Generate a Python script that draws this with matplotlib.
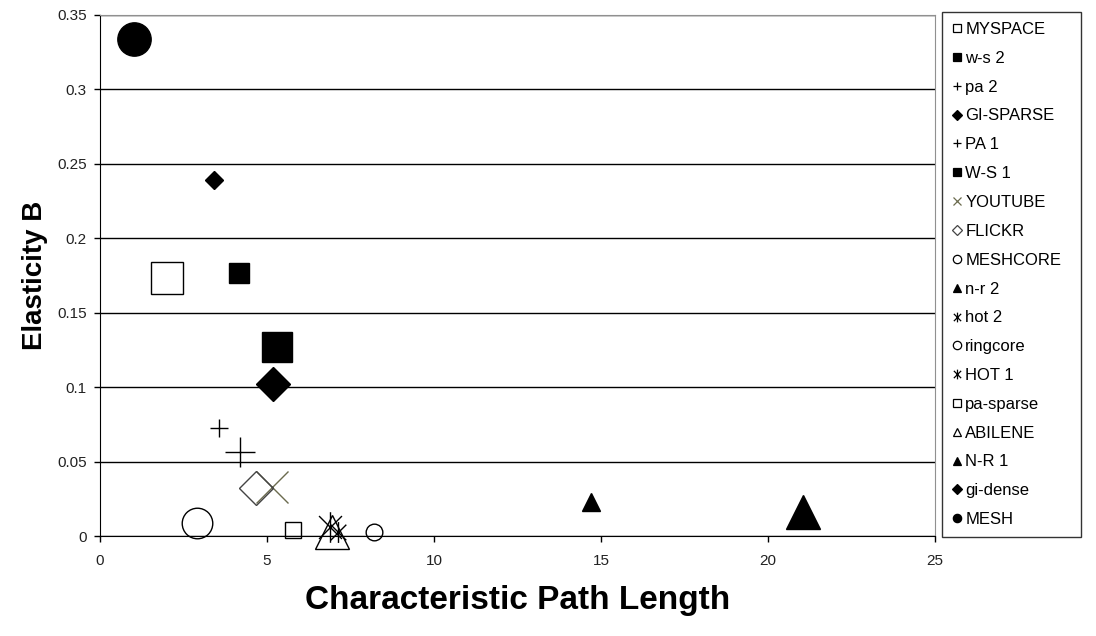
import matplotlib
matplotlib.use('Agg')
import matplotlib.pyplot as plt
from matplotlib.path import Path
from matplotlib.lines import Line2D

# datos (una serie por red)
series = ['MYSPACE', 'w-s 2', 'pa 2', 'GI-SPARSE', 'PA 1', 'W-S 1', 'YOUTUBE', 'FLICKR',
          'MESHCORE', 'n-r 2', 'hot 2', 'ringcore', 'HOT 1', 'pa-sparse', 'ABILENE',
          'N-R 1', 'gi-dense', 'MESH']
path_length = [2.0, 4.16, 3.56, 5.18, 4.19, 5.3, 5.15, 4.67,
               2.9, 14.7, 7.13, 8.2, 6.89, 5.78, 6.95,
               21.04, 3.41, 1.02]
elasticity = [0.173, 0.177, 0.0726, 0.102, 0.0564, 0.127, 0.033, 0.032,
              0.0087, 0.023, 0.003, 0.003, 0.006, 0.004, 0.003,
              0.016, 0.239, 0.334]

x_ticks = [0, 5, 10, 15, 20, 25]
y_ticks = [0, 0.05, 0.1, 0.15, 0.2, 0.25, 0.3, 0.35]
y_ticklabels = ['0', '0.05', '0.1', '0.15', '0.2', '0.25', '0.3', '0.35']

# marcador asterisco tipo Excel: X + linea vertical
star = Path([(0, -1), (0, 1), (-0.75, -0.75), (0.75, 0.75), (-0.75, 0.75), (0.75, -0.75)],
            [Path.MOVETO, Path.LINETO, Path.MOVETO, Path.LINETO, Path.MOVETO, Path.LINETO])

# estilo de cada serie: marcador, tamano (pt), relleno, color
style = {
    'MYSPACE':   ('s', 23, False, 'k'),
    'w-s 2':     ('s', 14, True, 'k'),
    'pa 2':      ('+', 13, True, 'k'),
    'GI-SPARSE': ('D', 17, True, 'k'),
    'PA 1':      ('+', 22, True, 'k'),
    'W-S 1':     ('s', 22, True, 'k'),
    'YOUTUBE':   ('x', 23, True, '#6b6b4e'),
    'FLICKR':    ('D', 17, False, '#444444'),
    'MESHCORE':  ('o', 22, False, 'k'),
    'n-r 2':     ('^', 13, True, 'k'),
    'hot 2':     (star, 15, True, 'k'),
    'ringcore':  ('o', 12, False, 'k'),
    'HOT 1':     (star, 22, True, 'k'),
    'pa-sparse': ('s', 11, False, 'k'),
    'ABILENE':   ('^', 24, False, 'k'),
    'N-R 1':     ('^', 24, True, 'k'),
    'gi-dense':  ('D', 9, True, 'k'),
    'MESH':      ('o', 24, True, 'k'),
}

plt.rcParams['font.family'] = ['Liberation Sans', 'DejaVu Sans']

fig = plt.figure(figsize=(10.96, 6.36), dpi=100)
ax = fig.add_axes([100/1096, 100/636, 835/1096, 521/636])

handles = []
for name, x, y in zip(series, path_length, elasticity):
    m, ms, filled, c = style[name]
    fc = c if filled else 'none'
    # como en Excel, los marcadores no se recortan en el borde
    ax.plot([x], [y], linestyle='none', marker=m, markersize=ms,
            markerfacecolor=fc, markeredgecolor=c, markeredgewidth=1,
            zorder=3, clip_on=False)
    # el marcador de la leyenda es pequeno
    lms = 5 if m == 'D' else 6
    if m is star:
        lms = 7
    handles.append(Line2D([], [], linestyle='none', marker=m, markersize=lms,
                          markerfacecolor=fc, markeredgecolor=c, markeredgewidth=0.9,
                          label=name))

ax.set_xlim(0, 25)
ax.set_ylim(0, 0.35)
ax.set_xticks(x_ticks)
ax.set_yticks(y_ticks)
ax.set_yticklabels(y_ticklabels)
ax.yaxis.grid(True, color='k', linewidth=1)
ax.set_axisbelow(True)
ax.tick_params(labelsize=11, labelcolor='#222222', length=4, width=1)
ax.tick_params(axis='x', pad=9)
ax.tick_params(axis='y', pad=5.5)
for s in ('top', 'right'):
    ax.spines[s].set_color('#909090')

ax.set_xlabel('Characteristic Path Length', fontsize=24, fontweight='bold')
ax.set_ylabel('Elasticity B', fontsize=20, fontweight='bold')
ax.xaxis.set_label_coords(0.5, -0.095)
ax.yaxis.set_label_coords(-0.062, 0.5)

leg = fig.legend(handles=handles, loc='upper left',
                 bbox_to_anchor=(942/1096, 1 - 12/636, 139/1096, 0.0), mode='expand',
                 fontsize=12, frameon=True, fancybox=False, edgecolor='k',
                 labelspacing=0.83, handlelength=0.6, handletextpad=0.2,
                 borderpad=0.6, borderaxespad=0)
leg.get_frame().set_linewidth(1)

fig.savefig('out.png', dpi=100)
